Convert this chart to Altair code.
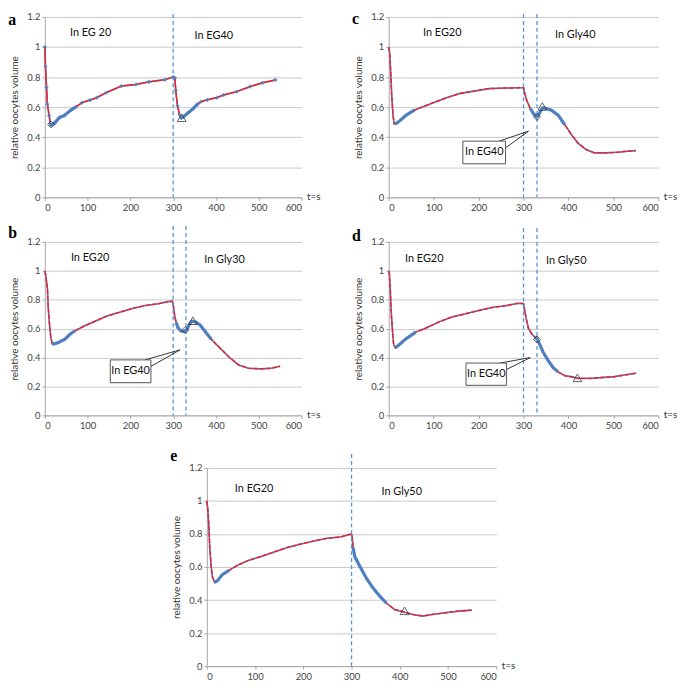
import altair as alt
import pandas as pd

# ---------------- data ----------------
A_T = [0, 1.5, 4, 6, 10, 13, 15, 23, 34, 46, 61, 72, 87, 106, 122, 144, 179, 213, 243, 281, 300, 304, 306, 310, 315, 319, 323, 334, 346, 357, 365, 380, 403, 418, 448, 479, 509, 539]
A_V = [1.0, 0.87, 0.73, 0.62, 0.545, 0.49, 0.48, 0.495, 0.53, 0.545, 0.58, 0.60, 0.63, 0.647, 0.664, 0.697, 0.74, 0.751, 0.768, 0.783, 0.80, 0.795, 0.71, 0.61, 0.55, 0.527, 0.534, 0.56, 0.588, 0.62, 0.636, 0.649, 0.664, 0.681, 0.703, 0.736, 0.762, 0.781]
A_BLUE = [(15, 72), (319, 360)]

B_T = [0, 2, 6, 8, 11, 14, 17, 21, 32, 47, 59, 70, 92, 115, 145, 175, 205, 235, 265, 288, 298, 300, 303, 307, 311, 318, 326, 332, 338, 344, 352, 363, 374, 389, 408, 431, 453, 476, 506, 529, 550]
B_V = [1.0, 0.972, 0.88, 0.744, 0.63, 0.539, 0.50, 0.493, 0.504, 0.527, 0.561, 0.584, 0.618, 0.648, 0.687, 0.714, 0.74, 0.76, 0.772, 0.787, 0.79, 0.767, 0.699, 0.642, 0.607, 0.584, 0.58, 0.596, 0.63, 0.653, 0.646, 0.625, 0.584, 0.527, 0.47, 0.402, 0.349, 0.326, 0.322, 0.326, 0.34]
B_BLUE = [(17, 70), (307, 389)]

C_T = [0, 2, 4.4, 6.6, 9.6, 12, 14.7, 24, 39, 57, 76, 98, 127, 157, 186, 223, 260, 296, 300, 302, 307, 315, 322, 329, 333, 337, 343, 351, 362, 377, 392, 407, 421, 440, 458, 480, 510, 532, 550]
C_V = [1.0, 0.964, 0.83, 0.68, 0.547, 0.49, 0.488, 0.508, 0.547, 0.58, 0.602, 0.628, 0.661, 0.69, 0.705, 0.723, 0.727, 0.729, 0.729, 0.70, 0.646, 0.591, 0.558, 0.536, 0.543, 0.569, 0.596, 0.591, 0.58, 0.547, 0.482, 0.416, 0.361, 0.317, 0.296, 0.296, 0.30, 0.307, 0.311]
C_BLUE = [(14.7, 60), (315, 392)]

D_T = [0, 1.5, 3.7, 6, 9, 11, 14.7, 20, 38, 60, 82, 112, 141, 171, 200, 230, 259, 289, 300, 302, 306, 311, 318, 325, 330, 336, 344, 355, 366, 377, 392, 406, 421, 451, 480, 502, 524, 551]
D_V = [1.0, 0.98, 0.848, 0.69, 0.558, 0.49, 0.468, 0.48, 0.529, 0.576, 0.603, 0.647, 0.681, 0.703, 0.725, 0.747, 0.758, 0.776, 0.773, 0.736, 0.669, 0.602, 0.564, 0.542, 0.529, 0.491, 0.435, 0.379, 0.33, 0.301, 0.274, 0.268, 0.256, 0.256, 0.263, 0.268, 0.279, 0.292]
D_BLUE = [(14.7, 70), (325, 385)]

E_T = [0, 2, 4, 6, 9, 11.6, 16, 22, 32, 46, 63, 86, 114, 141, 168, 195, 222, 250, 277, 297, 301, 303, 307, 318, 331, 345, 359, 372, 389, 406, 427, 447, 467, 495, 522, 549]
E_V = [1.0, 0.947, 0.857, 0.719, 0.6, 0.54, 0.507, 0.517, 0.554, 0.58, 0.61, 0.64, 0.665, 0.693, 0.719, 0.739, 0.758, 0.774, 0.782, 0.798, 0.794, 0.719, 0.66, 0.60, 0.531, 0.471, 0.422, 0.382, 0.343, 0.329, 0.313, 0.303, 0.313, 0.323, 0.333, 0.339]
E_BLUE = [(16, 60), (303, 372)]

# phase labels: (t, v, text)
A_LABELS = [(107, 1.096, "In EG 20"), (395, 1.076, "In EG40")]
B_LABELS = [(106, 1.09, "In EG20"), (420, 1.077, "In Gly30")]
C_LABELS = [(119, 1.095, "In EG20"), (415, 1.08, "In Gly40")]
D_LABELS = [(79, 1.079, "In EG20"), (395, 1.066, "In Gly50")]
E_LABELS = [(98, 1.075, "In EG20"), (404, 1.057, "In Gly50")]

# vertical solution-change lines
A_VLINES = [300]
B_VLINES = [300, 330]
C_VLINES = [300, 330]
D_VLINES = [300, 330]
E_VLINES = [300]

# open markers: (t, v, shape)
A_MARKS = [(15, 0.485, "diamond"), (320, 0.53, "triangle-up")]
B_MARKS = [(328, 0.59, "diamond"), (346, 0.655, "triangle-up")]
C_MARKS = [(330, 0.535, "diamond"), (342, 0.605, "triangle-up")]
D_MARKS = [(330, 0.525, "diamond"), (420, 0.26, "triangle-up")]
E_MARKS = [(410, 0.335, "triangle-up")]

# callout boxes "In EG40": (t1, t2, v1, v2, tip_t, tip_v)
B_CALLOUT = (153, 248, 0.226, 0.384, 316, 0.453)
C_CALLOUT = (165, 260, 0.223, 0.374, 311, 0.44)
D_CALLOUT = (172, 262, 0.208, 0.362, 315, 0.40)

X_TICKS = [0, 100, 200, 300, 400, 500, 600]
Y_TICKS = [0, 0.2, 0.4, 0.6, 0.8, 1.0, 1.2]

FONT = "Lato"
BLUE = "#4f7fc0"
RED = "#f0202a"
VLINE = "#5b8fd6"


def panel(letter, T, V, blue, labels, vlines, marks, callout, width, height,
          rule_top, letter_y, dashed):
    df = pd.DataFrame({"t": T, "v": V})
    xs = alt.Scale(domain=[0, 600], nice=False, zero=False)
    ys = alt.Scale(domain=[0, 1.2], nice=False, zero=False)
    xax = alt.Axis(values=X_TICKS, grid=False, title="t=s", titleX=width + 5,
                   titleY=-1, titleAlign="left", titleBaseline="middle",
                   titleFont=FONT, titleFontSize=10, titleFontWeight="normal",
                   titleColor="#333", labelFont=FONT, labelFontSize=9.5,
                   labelColor="#444", domainColor="#a6a6a6", tickColor="#a6a6a6",
                   tickSize=3, labelPadding=2, labelOverlap=False)
    yax = alt.Axis(values=Y_TICKS, format="~g", grid=True, gridColor="#c8c8c8",
                   title="relative oocytes volume", titleFont=FONT, titleFontSize=10,
                   titleFontWeight="normal", titleColor="#333", titlePadding=7,
                   labelFont=FONT, labelFontSize=9.5, labelColor="#444",
                   domainColor="#a6a6a6", tickColor="#a6a6a6", tickSize=3,
                   labelPadding=2, labelOverlap=False)
    X = alt.X("t:Q", scale=xs, axis=xax)
    Y = alt.Y("v:Q", scale=ys, axis=yax)

    layers = [alt.Chart(df).mark_line(color=BLUE, strokeWidth=1.6).encode(x=X, y=Y)]
    if dashed:
        layers.append(alt.Chart(df).mark_line(color=RED, strokeWidth=1.5,
                                              strokeDash=[5, 1.3]).encode(x=X, y=Y))
    else:
        layers.append(alt.Chart(df).mark_line(color=RED, strokeWidth=1.5).encode(x=X, y=Y))
        layers.append(alt.Chart(df).mark_point(shape="cross", size=14, filled=True,
                                               color=BLUE, opacity=0.9).encode(x=X, y=Y))
    for (a, b) in blue:
        seg = df[(df.t >= a) & (df.t <= b)]
        layers.append(alt.Chart(seg).mark_line(color=BLUE, strokeWidth=3.2).encode(x=X, y=Y))

    vdf = pd.DataFrame({"t": vlines})
    layers.append(alt.Chart(vdf).mark_rule(strokeDash=[4, 3], strokeWidth=1.3).encode(
        x=X, y=alt.value(rule_top), y2=alt.value(height), color=alt.value(VLINE)))

    ldf = pd.DataFrame(labels, columns=["t", "v", "txt"])
    layers.append(alt.Chart(ldf).mark_text(font=FONT, fontSize=11, color="#111").encode(
        x=X, y=Y, text="txt:N"))

    if callout is not None:
        t1, t2, v1, v2, tt, tv = callout
        bdf = pd.DataFrame({"t": [t1], "t2": [t2], "v": [v1], "v2": [v2]})
        cdf = pd.DataFrame({"t": [(t1 + t2) / 2], "v": [(v1 + v2) / 2], "txt": ["In EG40"]})
        pdf = pd.DataFrame({"t": [t2 - 14, t2], "v": [v2, v2 - 0.045],
                            "t2": [tt, tt], "v2": [tv, tv]})
        layers.append(alt.Chart(pdf).mark_rule(strokeWidth=0.9).encode(
            x=X, x2="t2:Q", y=Y, y2="v2:Q", color=alt.value("#222")))
        layers.append(alt.Chart(bdf).mark_rect(fill="white", stroke="#555", strokeWidth=1).encode(
            x=X, x2="t2:Q", y=Y, y2="v2:Q"))
        layers.append(alt.Chart(cdf).mark_text(font=FONT, fontSize=11, color="#111").encode(
            x=X, y=Y, text="txt:N"))

    mdf = pd.DataFrame(marks, columns=["t", "v", "shape"])
    for shp in mdf["shape"].unique():
        sub = mdf[mdf["shape"] == shp]
        size = 80 if shp.startswith("triangle") else 50
        layers.append(alt.Chart(sub).mark_point(shape=shp, filled=False,
                                                strokeWidth=1, size=size).encode(
            x=X, y=Y, color=alt.value("#222")))

    tdf = pd.DataFrame({"txt": [letter]})
    layers.append(alt.Chart(tdf).mark_text(font="Liberation Serif", fontSize=16, fontWeight="bold",
                                           align="left", baseline="alphabetic", color="#000").encode(
        x=alt.value(-37), y=alt.value(letter_y), text="txt:N"))

    return alt.layer(*layers).properties(width=width, height=height)


pa = panel("a", A_T, A_V, A_BLUE, A_LABELS, A_VLINES, A_MARKS, None, 259, 182, -3, 8, False)
pc = panel("c", C_T, C_V, C_BLUE, C_LABELS, C_VLINES, C_MARKS, C_CALLOUT, 272, 182, -3, 7, True)
pb = panel("b", B_T, B_V, B_BLUE, B_LABELS, B_VLINES, B_MARKS, B_CALLOUT, 259, 175, -16, -4, True)
pd_ = panel("d", D_T, D_V, D_BLUE, D_LABELS, D_VLINES, D_MARKS, D_CALLOUT, 272, 175, -14, -1, True)
pe = panel("e", E_T, E_V, E_BLUE, E_LABELS, E_VLINES, E_MARKS, None, 292, 200, -14, -7, True)

row1 = alt.hconcat(pa, pc, spacing=32)
row2 = alt.hconcat(pb, pd_, spacing=32)
top = alt.vconcat(row1, row2, spacing=13)
chart = alt.vconcat(top, pe, spacing=18, center=True).properties(padding=0).configure_view(stroke=None)

chart.save("out.html", embed_options={"renderer": "svg", "actions": False})
